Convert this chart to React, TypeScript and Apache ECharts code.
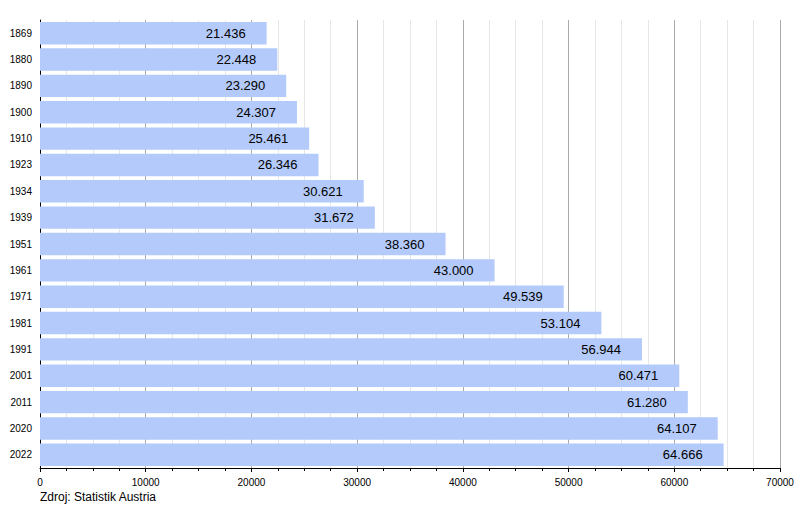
import React, { useEffect, useRef } from "react";
import * as echarts from "echarts";

const years = ["1869", "1880", "1890", "1900", "1910", "1923", "1934", "1939", "1951", "1961", "1971", "1981", "1991", "2001", "2011", "2020", "2022"];
const population = [21436, 22448, 23290, 24307, 25461, 26346, 30621, 31672, 38360, 43000, 49539, 53104, 56944, 60471, 61280, 64107, 64666];
const sourceText = "Zdroj: Statistik Austria";

const FONT = "Liberation Sans, Arial, sans-serif";

function fmt(v: number): string {
  return String(v).replace(/\B(?=(\d{3})+(?!\d))/g, ".");
}

export default function App() {
  const ref = useRef<HTMLDivElement>(null);
  useEffect(() => {
    document.body.style.margin = "0";
    if (!ref.current) return;
    const chart = echarts.init(ref.current, undefined, { renderer: "svg" });
    chart.setOption({
      animation: false,
      backgroundColor: "#ffffff",
      grid: { left: 40, right: 20, top: 20, bottom: 40, containLabel: false },
      xAxis: {
        type: "value",
        min: 0,
        max: 70000,
        interval: 10000,
        axisLine: { show: true, lineStyle: { color: "#000", width: 1 } },
        axisTick: { show: true, length: 4, lineStyle: { color: "#000" } },
        minorTick: { show: true, splitNumber: 4, length: 3, lineStyle: { color: "#000" } },
        splitLine: { show: true, lineStyle: { color: "#aaaaaa", width: 1 } },
        minorSplitLine: { show: true, lineStyle: { color: "#e6e6e6", width: 1 } },
        axisLabel: { color: "#000", fontFamily: FONT, fontSize: 10, margin: 9, formatter: (v: number) => String(v) },
      },
      yAxis: {
        type: "category",
        data: years,
        inverse: true,
        axisLine: { show: true, lineStyle: { color: "#000", width: 1 } },
        axisTick: { show: false },
        splitLine: { show: false },
        axisLabel: { color: "#000", fontFamily: FONT, fontSize: 10, margin: 8 },
      },
      series: [
        {
          type: "bar",
          data: population,
          barCategoryGap: "15%",
          itemStyle: { color: "#b3cafb" },
          label: {
            show: true,
            position: "insideRight",
            distance: 21,
            color: "#000",
            fontFamily: FONT,
            fontSize: 13,
            formatter: (p: any) => fmt(p.value),
          },
        },
      ],
      graphic: [
        {
          type: "text",
          left: 40,
          top: 491,
          style: { text: sourceText, fill: "#000", font: `12px ${FONT}` },
        },
      ],
    });
    return () => chart.dispose();
  }, []);
  return <div ref={ref} style={{ width: 800, height: 508 }} />;
}
